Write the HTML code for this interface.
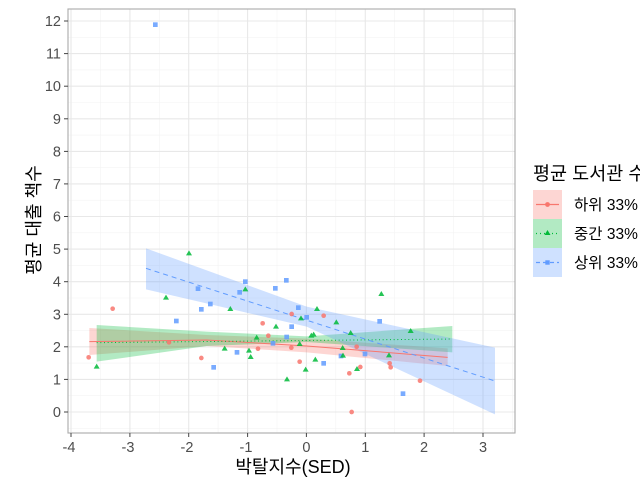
<!DOCTYPE html><html><head><meta charset="utf-8"><style>body{margin:0;background:#fff;overflow:hidden}svg{display:block}text{font-family:"Liberation Sans","Noto Sans CJK KR",sans-serif}</style></head><body>
<svg width="640" height="480" xmlns="http://www.w3.org/2000/svg">
<rect width="640" height="480" fill="#fff"/>
<g id="grid">
<g stroke="#f3f3f3" stroke-width="0.6">
<line x1="68" x2="515" y1="428.3" y2="428.3"/><line x1="68" x2="515" y1="395.7" y2="395.7"/><line x1="68" x2="515" y1="363.1" y2="363.1"/><line x1="68" x2="515" y1="330.6" y2="330.6"/><line x1="68" x2="515" y1="298" y2="298"/><line x1="68" x2="515" y1="265.4" y2="265.4"/><line x1="68" x2="515" y1="232.8" y2="232.8"/><line x1="68" x2="515" y1="200.2" y2="200.2"/><line x1="68" x2="515" y1="167.7" y2="167.7"/><line x1="68" x2="515" y1="135.1" y2="135.1"/><line x1="68" x2="515" y1="102.5" y2="102.5"/><line x1="68" x2="515" y1="69.9" y2="69.9"/><line x1="68" x2="515" y1="37.3" y2="37.3"/>
<line y1="9" y2="433" x1="100.4" x2="100.4"/><line y1="9" y2="433" x1="159.3" x2="159.3"/><line y1="9" y2="433" x1="218.1" x2="218.1"/><line y1="9" y2="433" x1="277" x2="277"/><line y1="9" y2="433" x1="335.8" x2="335.8"/><line y1="9" y2="433" x1="394.7" x2="394.7"/><line y1="9" y2="433" x1="453.6" x2="453.6"/><line y1="9" y2="433" x1="512.4" x2="512.4"/>
</g>
<g stroke="#e8e8e8" stroke-width="1.1">
<line x1="68" x2="515" y1="412" y2="412"/><line x1="68" x2="515" y1="379.4" y2="379.4"/><line x1="68" x2="515" y1="346.8" y2="346.8"/><line x1="68" x2="515" y1="314.3" y2="314.3"/><line x1="68" x2="515" y1="281.7" y2="281.7"/><line x1="68" x2="515" y1="249.1" y2="249.1"/><line x1="68" x2="515" y1="216.5" y2="216.5"/><line x1="68" x2="515" y1="183.9" y2="183.9"/><line x1="68" x2="515" y1="151.4" y2="151.4"/><line x1="68" x2="515" y1="118.8" y2="118.8"/><line x1="68" x2="515" y1="86.2" y2="86.2"/><line x1="68" x2="515" y1="53.6" y2="53.6"/><line x1="68" x2="515" y1="21" y2="21"/>
<line y1="9" y2="433" x1="71" x2="71"/><line y1="9" y2="433" x1="129.9" x2="129.9"/><line y1="9" y2="433" x1="188.7" x2="188.7"/><line y1="9" y2="433" x1="247.6" x2="247.6"/><line y1="9" y2="433" x1="306.4" x2="306.4"/><line y1="9" y2="433" x1="365.3" x2="365.3"/><line y1="9" y2="433" x1="424.1" x2="424.1"/><line y1="9" y2="433" x1="483" x2="483"/>
</g>
</g>
<g transform="translate(40,240) scale(0.33333)">
<path d="M148,264 L500,285 L800,296 L1223,325 L1223,378 L800,337 L500,318 L148,345Z" fill="#F8766D" opacity="0.3"/>
<path d="M170,255 L500,275 L800,289 L1237,258 L1237,337 L800,306 L500,318 L170,365Z" fill="#00BA38" opacity="0.3"/>
<path d="M318,25 L800,200 L1365,323 L1365,523 L800,260 L318,148Z" fill="#619CFF" opacity="0.3"/>
<polyline points="148,305 500,300 800,318 1223,352" fill="none" stroke="#F8766D" stroke-width="3"/>
<line x1="170" y1="308" x2="1237" y2="297" stroke="#00BA38" stroke-width="3" stroke-dasharray="3,8"/>
<line x1="318" y1="85" x2="1365" y2="423" stroke="#619CFF" stroke-width="3" stroke-dasharray="15,12"/>
<g fill="#F8766D" fill-opacity="0.85">
<circle cx="146" cy="352" r="7"/><circle cx="218" cy="206" r="7"/><circle cx="387" cy="307" r="7"/><circle cx="484" cy="354" r="7"/><circle cx="654" cy="326" r="7"/><circle cx="668" cy="250" r="7"/><circle cx="685" cy="287" r="7"/><circle cx="755" cy="222" r="7"/><circle cx="754" cy="323" r="7"/><circle cx="779" cy="365" r="7"/><circle cx="851" cy="227" r="7"/><circle cx="928" cy="400" r="7"/><circle cx="935" cy="516" r="7"/><circle cx="950" cy="320" r="7"/><circle cx="961" cy="381" r="7"/><circle cx="1049" cy="370" r="7"/><circle cx="1052" cy="382" r="7"/><circle cx="1140" cy="422" r="7"/>
</g>
<g fill="#619CFF" fill-opacity="0.85">
<rect x="402" y="236" width="14" height="14"/><rect x="467" y="139" width="14" height="14"/><rect x="477" y="201" width="14" height="14"/><rect x="504" y="185" width="14" height="14"/><rect x="514" y="375" width="14" height="14"/><rect x="584" y="330" width="14" height="14"/><rect x="592" y="150" width="14" height="14"/><rect x="609" y="118" width="14" height="14"/><rect x="692" y="303" width="14" height="14"/><rect x="699" y="138" width="14" height="14"/><rect x="732" y="114" width="14" height="14"/><rect x="733" y="284" width="14" height="14"/><rect x="748" y="253" width="14" height="14"/><rect x="768" y="196" width="14" height="14"/><rect x="793" y="225" width="14" height="14"/><rect x="844" y="363" width="14" height="14"/><rect x="896" y="341" width="14" height="14"/><rect x="968" y="335" width="14" height="14"/><rect x="1012" y="237" width="14" height="14"/><rect x="1082" y="454" width="14" height="14"/><rect x="339" y="-653" width="14" height="14"/>
</g>
<g fill="#00BA38" fill-opacity="0.85">
<path d="M170,371 l9,15 h-18z M378,164 l9,15 h-18z M447,31 l9,15 h-18z M554,317 l9,15 h-18z M571,198 l9,15 h-18z M616,139 l9,15 h-18z M627,323 l9,15 h-18z M632,342 l9,15 h-18z M650,284 l9,15 h-18z M708,251 l9,15 h-18z M741,409 l9,15 h-18z M779,303 l9,15 h-18z M783,226 l9,15 h-18z M797,380 l9,15 h-18z M814,278 l9,15 h-18z M821,275 l9,15 h-18z M826,350 l9,15 h-18z M831,198 l9,15 h-18z M889,238 l9,15 h-18z M908,315 l9,15 h-18z M909,338 l9,15 h-18z M932,270 l9,15 h-18z M951,378 l9,15 h-18z M1024,153 l9,15 h-18z M1047,337 l9,15 h-18z M1112,264 l9,15 h-18z"/>
</g>
</g>
<rect x="68" y="9" width="447" height="424" fill="none" stroke="#aaa" stroke-width="1.1"/>
<g stroke="#444" stroke-width="1">
<line x1="64" x2="68" y1="412" y2="412"/><line x1="64" x2="68" y1="379.4" y2="379.4"/><line x1="64" x2="68" y1="346.8" y2="346.8"/><line x1="64" x2="68" y1="314.3" y2="314.3"/><line x1="64" x2="68" y1="281.7" y2="281.7"/><line x1="64" x2="68" y1="249.1" y2="249.1"/><line x1="64" x2="68" y1="216.5" y2="216.5"/><line x1="64" x2="68" y1="183.9" y2="183.9"/><line x1="64" x2="68" y1="151.4" y2="151.4"/><line x1="64" x2="68" y1="118.8" y2="118.8"/><line x1="64" x2="68" y1="86.2" y2="86.2"/><line x1="64" x2="68" y1="53.6" y2="53.6"/><line x1="64" x2="68" y1="21" y2="21"/>
<line y1="433" y2="437" x1="71" x2="71"/><line y1="433" y2="437" x1="129.9" x2="129.9"/><line y1="433" y2="437" x1="188.7" x2="188.7"/><line y1="433" y2="437" x1="247.6" x2="247.6"/><line y1="433" y2="437" x1="306.4" x2="306.4"/><line y1="433" y2="437" x1="365.3" x2="365.3"/><line y1="433" y2="437" x1="424.1" x2="424.1"/><line y1="433" y2="437" x1="483" x2="483"/>
</g>
<g font-size="14.5" fill="#4d4d4d" text-anchor="end">
<text x="61" y="417">0</text><text x="61" y="384.4">1</text><text x="61" y="351.8">2</text><text x="61" y="319.3">3</text><text x="61" y="286.7">4</text><text x="61" y="254.1">5</text><text x="61" y="221.5">6</text><text x="61" y="188.9">7</text><text x="61" y="156.4">8</text><text x="61" y="123.8">9</text><text x="61" y="91.2">10</text><text x="61" y="58.6">11</text><text x="61" y="26">12</text>
</g>
<g font-size="14.5" fill="#4d4d4d" text-anchor="middle">
<text x="69" y="452">-4</text><text x="128" y="452">-3</text><text x="187" y="452">-2</text><text x="246" y="452">-1</text><text x="306.4" y="452">0</text><text x="365.3" y="452">1</text><text x="424.1" y="452">2</text><text x="483" y="452">3</text>
</g>
<text x="293" y="473" font-size="18" text-anchor="middle" fill="#000">박탈지수(SED)</text>
<text transform="translate(40,220) rotate(-90)" font-size="18" text-anchor="middle" fill="#000">평균 대출 책수</text>
<text x="533" y="180" font-size="18.5" fill="#000">평균 도서관 수</text>
<rect x="533" y="190" width="29" height="29" fill="#F8766D" opacity="0.3"/>
<rect x="533" y="219" width="29" height="29" fill="#00BA38" opacity="0.3"/>
<rect x="533" y="248" width="29" height="29" fill="#619CFF" opacity="0.3"/>
<line x1="536" x2="559" y1="204.5" y2="204.5" stroke="#F8766D" stroke-width="1.2"/><circle cx="547.5" cy="204.5" r="2.4" fill="#F8766D"/>
<line x1="536" x2="559" y1="233.5" y2="233.5" stroke="#00BA38" stroke-width="1.2" stroke-dasharray="1,3"/><path d="M547.5,230 l3,5 h-6z" fill="#00BA38"/>
<line x1="536" x2="559" y1="262.5" y2="262.5" stroke="#619CFF" stroke-width="1.2" stroke-dasharray="4,3"/><rect x="545.3" y="260.3" width="4.4" height="4.4" fill="#619CFF"/>
<g font-size="15.5" fill="#000"><text x="574" y="210">하위 33%</text><text x="574" y="239">중간 33%</text><text x="574" y="268">상위 33%</text></g>
</svg>
</body></html>
